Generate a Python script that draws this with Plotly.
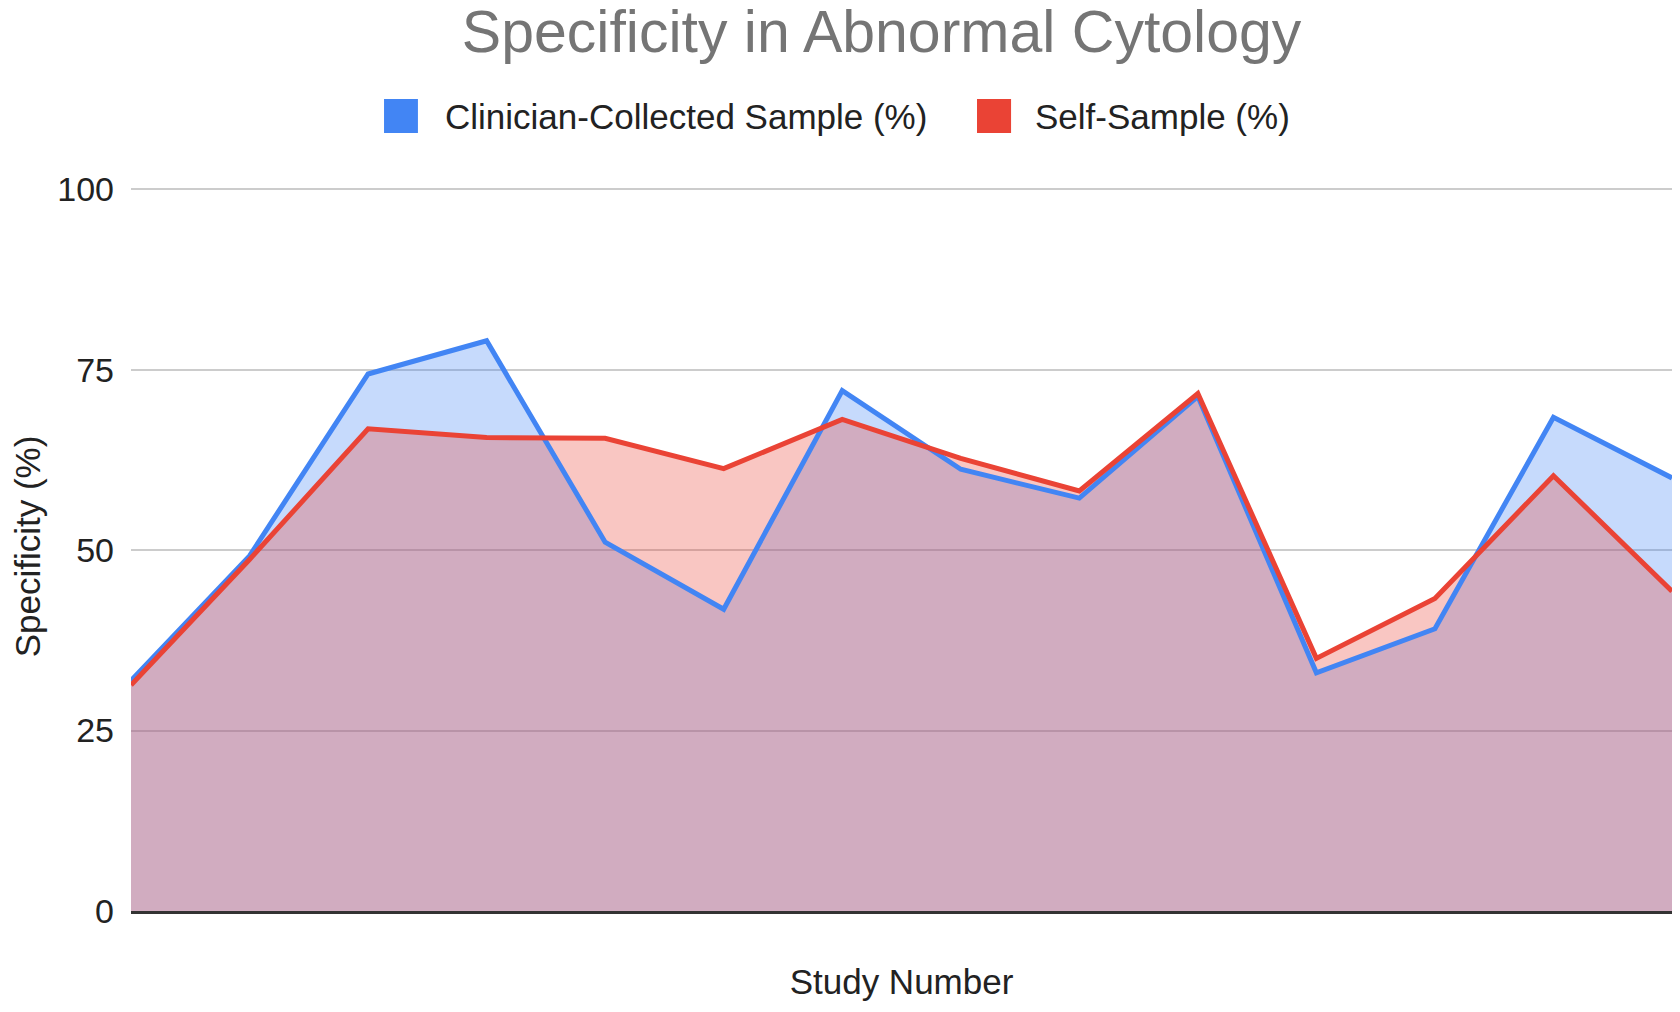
import plotly.graph_objects as go

# study number 1..14
studies = list(range(1, 15))
clinician = [31.9, 49.2, 74.4, 79.0, 51.1, 41.8, 72.1, 61.2, 57.2, 71.3, 33.0, 39.1, 68.4, 60.0]
self_sample = [31.3, 48.7, 66.8, 65.6, 65.5, 61.3, 68.1, 62.7, 58.2, 71.7, 35.0, 43.3, 60.3, 44.3]
y_ticks = [0, 25, 50, 75, 100]
series_names = ["Clinician-Collected Sample (%)", "Self-Sample (%)"]

blue = "#4285F4"
red = "#EA4335"
font = "Liberation Sans"

fig = go.Figure()

# fills first, then the lines on top of both fills
fig.add_trace(go.Scatter(x=studies, y=clinician, mode="lines", fill="tozeroy",
                         line=dict(width=0), fillcolor="rgba(66,133,244,0.3)",
                         showlegend=False, hoverinfo="skip"))
fig.add_trace(go.Scatter(x=studies, y=self_sample, mode="lines", fill="tozeroy",
                         line=dict(width=0), fillcolor="rgba(234,67,53,0.3)",
                         showlegend=False, hoverinfo="skip"))
fig.add_trace(go.Scatter(x=studies, y=clinician, mode="lines",
                         line=dict(color=blue, width=5), name=series_names[0],
                         showlegend=False))
fig.add_trace(go.Scatter(x=studies, y=self_sample, mode="lines",
                         line=dict(color=red, width=5), name=series_names[1],
                         showlegend=False))

# legend drawn by hand so the keys can be big squares like the original
legend_keys = [(0.1642, 0.1862, 0.2025, blue), (0.5490, 0.5711, 0.5855, red)]
for name, (x0, x1, xt, col) in zip(series_names, legend_keys):
    fig.add_shape(type="rect", xref="paper", yref="paper",
                  x0=x0, x1=x1, y0=1.0672, y1=1.1139,
                  fillcolor=col, line=dict(width=0))
    fig.add_annotation(text=name, xref="paper", yref="paper", x=xt, y=1.0905,
                       xanchor="left", yanchor="middle", showarrow=False,
                       font=dict(family=font, size=35, color="#222222"))

# page body has an 8px margin, so the figure is 16px smaller than the window
fig.update_layout(
    width=1664, height=996,
    margin=dict(l=123, r=0, t=174, b=93),
    plot_bgcolor="white", paper_bgcolor="white",
    font=dict(family=font, size=35, color="#222222"),
    showlegend=False,
    title=dict(
        text="Specificity in Abnormal Cytology",
        font=dict(family=font, size=59, color="#757575"),
        x=0.525, xanchor="center", y=0.977, yanchor="middle",
    ),
)

fig.update_xaxes(
    range=[1, 14], showticklabels=False, showgrid=False, zeroline=False,
    showline=True, linecolor="#333333", linewidth=3,
    title=dict(text="Study Number", standoff=57, font=dict(size=35)),
)
fig.update_yaxes(
    range=[0, 101], tickvals=y_ticks, showgrid=True, gridcolor="#CCCCCC",
    gridwidth=2, zeroline=False, showline=False,
    ticklabelstandoff=16, tickfont=dict(size=34),
    title=dict(text="Specificity (%)", standoff=10, font=dict(size=35)),
)

fig.write_html("out.html")
